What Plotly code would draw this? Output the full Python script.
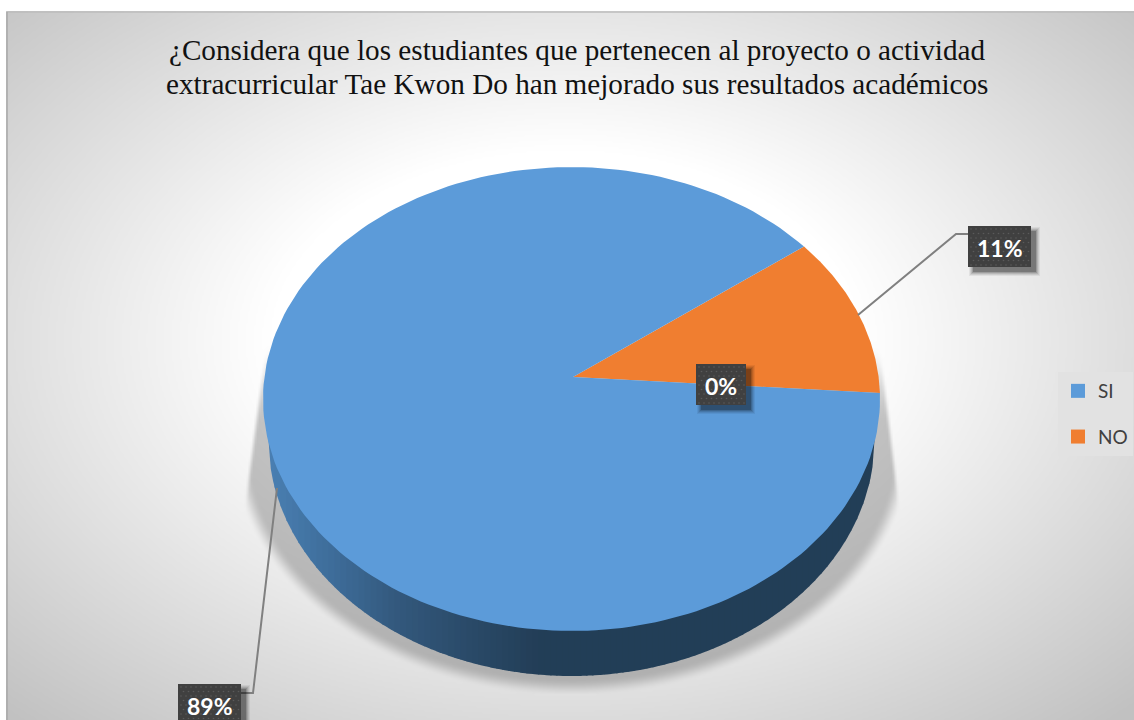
import numpy as np
import plotly.graph_objects as go

# ---- data ----
categories = ["SI", "NO", ""]
values = [89, 11, 0]
slice_colors = ["#5C9BD9", "#F07E30", "#A5A5A5"]
title_lines = ["¿Considera que los estudiantes que pertenecen al proyecto o actividad",
               "extracurricular Tae Kwon Do han mejorado sus resultados académicos"]

# ---- layout constants (pixel space) ----
W, H = 1134, 720
CX, CY, RX, RY = 571.5, 399, 308.5, 232      # top face
APEX = (573, 377)
BX, BY, BRX, BRY = 571.5, 440, 303, 236      # bottom rim
START_DEG = 1.5
wall_stops_x = [268, 340, 400, 473, 540, 880]
wall_stops_rgb = [(0x4A, 0x80, 0xB3), (0x3D, 0x6B, 0x97), (0x33, 0x58, 0x7C),
                  (0x2A, 0x4A, 0x68), (0x23, 0x3E, 0x57), (0x22, 0x3F, 0x57)]


def smooth(a, b, v):
    s = np.clip((v - a) / (b - a), 0, 1)
    return s * s * (3 - 2 * s)


# background shading with the soft shadow under the pie
xs = np.arange(7, W + 1, 2.0)
ys = np.arange(12, H + 1, 2.0)
gx, gy = np.meshgrid(xs, ys)
t = np.sqrt(((gx - 565) / 540) ** 2 + ((gy - 340) / 348) ** 2) / np.sqrt(2)
bg = 255 - 62 * np.clip((t - 0.38) / 0.67, 0, 1)
r = np.sqrt(((gx - 571.5) / 332) ** 2 + ((gy - 445) / 243) ** 2)
d = (r - 1) * np.hypot(gx - 571.5, gy - 445) / np.maximum(r, 1e-6)
shadow = 0.775 + (1 - 0.775) * smooth(-10, 8, d)
left_edge = 268 - (gy - 330) * 25 / 190
right_edge = 877 + (gy - 330) * 23 / 190
mask = smooth(-3, 3, gx - left_edge) * smooth(-3, 3, right_edge - gx) * smooth(335, 425, gy) * (gy <= 692)
img = bg * (1 - mask * (1 - shadow))
z = np.round(img).astype(np.uint8)

fig = go.Figure()
fig.add_trace(go.Heatmap(x=xs, y=ys, z=z, zmin=0, zmax=255, zsmooth="best", showscale=False,
                         colorscale=[[0, "#000000"], [1, "#ffffff"]], hoverinfo="skip"))


def poly(px, py, color, **kw):
    fig.add_trace(go.Scatter(x=px, y=py, mode="lines", fill="toself", fillcolor=color,
                             line=dict(width=0, color=color), showlegend=False,
                             hoverinfo=kw.pop("hoverinfo", "skip"), **kw))


# side wall as vertical colour strips
edges = np.arange(BX - BRX, BX + BRX + 0.1, 6.0)
for a, b in zip(edges[:-1], edges[1:]):
    m = (a + b) / 2
    rgb = [np.interp(m, wall_stops_x, [c[i] for c in wall_stops_rgb]) for i in range(3)]
    sx = np.linspace(a, min(b + 0.8, BX + BRX), 4)
    sy = BY + BRY * np.sqrt(np.clip(1 - ((sx - BX) / BRX) ** 2, 0, 1))
    poly([a, *sx, sx[-1]], [BY, *sy, BY], "rgb(%d,%d,%d)" % tuple(rgb))

# top face slices: NO runs from START_DEG anticlockwise, SI takes the remainder
total = sum(values)
angle = START_DEG
for i in [1, 0]:
    sweep = values[i] / total * 360
    th = np.radians(np.linspace(angle, angle + sweep, 200))
    poly([APEX[0], *(CX + RX * np.cos(th))], [APEX[1], *(CY - RY * np.sin(th))], slice_colors[i],
         name=categories[i], hoverinfo="name")
    angle += sweep


# callout labels
def label(x0, y0, x1, y1, text):
    for grow, alpha in [(4, 0.06), (3, 0.08), (2, 0.10), (1, 0.14), (0, 0.22)]:
        poly([x0 + 5 - grow, x1 + 5 + grow, x1 + 5 + grow, x0 + 5 - grow],
             [y0 + 5 - grow, y0 + 5 - grow, y1 + 5 + grow, y1 + 5 + grow],
             "rgba(0,0,0,%.2f)" % alpha)
    poly([x0, x1, x1, x0], [y0, y0, y1, y1], "#404040")
    dx, dy = [], []
    for row, yy in enumerate(np.arange(y0 + 3, y1, 4.5)):
        for xx in np.arange(x0 + 3 + (row % 2) * 2.5, x1 - 1, 5.0):
            dx.append(xx)
            dy.append(yy)
    fig.add_trace(go.Scatter(x=dx, y=dy, mode="markers", showlegend=False, hoverinfo="skip",
                             marker=dict(size=1.6, color="#5a5a5a", line=dict(width=0))))
    fig.add_annotation(x=(x0 + x1) / 2, y=(y0 + y1) / 2 + 1, text=text, showarrow=False,
                       font=dict(family="Lato", size=23, color="#ffffff", weight="bold"))


def leader(px, py):
    fig.add_trace(go.Scatter(x=px, y=py, mode="lines", showlegend=False, hoverinfo="skip",
                             line=dict(color="#808080", width=2)))


leader([858, 956, 968], [315, 234, 234])
leader([277, 253, 241], [488, 693, 693])
label(696, 364, 746, 405, f"{values[2]}%")
label(968, 226, 1031, 267, f"{values[1]}%")
label(178, 684, 241, 725, f"{values[0]}%")

# legend entries
for i in [0, 1]:
    fig.add_trace(go.Scatter(x=[None], y=[None], mode="markers", name=categories[i],
                             legendgroup=categories[i],
                             marker=dict(symbol="square", size=14, color=slice_colors[i])))

TITLE_FONT = dict(family="Liberation Serif", size=29.2, color="#111111")
fig.add_annotation(x=577, y=84, text=title_lines[1], showarrow=False, font=TITLE_FONT)

fig.update_layout(
    width=W, height=H, margin=dict(l=0, r=0, t=0, b=0),
    paper_bgcolor="#ffffff", plot_bgcolor="#ffffff",
    xaxis=dict(range=[0, W], visible=False, fixedrange=True),
    yaxis=dict(range=[H, 0], visible=False, fixedrange=True),
    title=dict(text=title_lines[0], x=577 / W, xanchor="center", y=1 - 50 / H, yanchor="middle",
               font=TITLE_FONT),
    legend=dict(x=1058 / W, y=1 - 372 / H, xanchor="left", yanchor="top", bgcolor="#e2e2e2",
                font=dict(family="Lato", size=19, color="#404040"), tracegroupgap=18,
                itemwidth=30),
    shapes=[dict(type="line", xref="x", yref="y", x0=7, x1=W, y0=12, y1=12, line=dict(color="#bdbdbd", width=1.5)),
            dict(type="line", xref="x", yref="y", x0=7, x1=7, y0=12, y1=H, line=dict(color="#a8a8a8", width=1.5))],
)
fig.write_html("out.html", config={"displayModeBar": False},
               post_script="document.body.style.margin='0';document.body.style.overflow='hidden';")
